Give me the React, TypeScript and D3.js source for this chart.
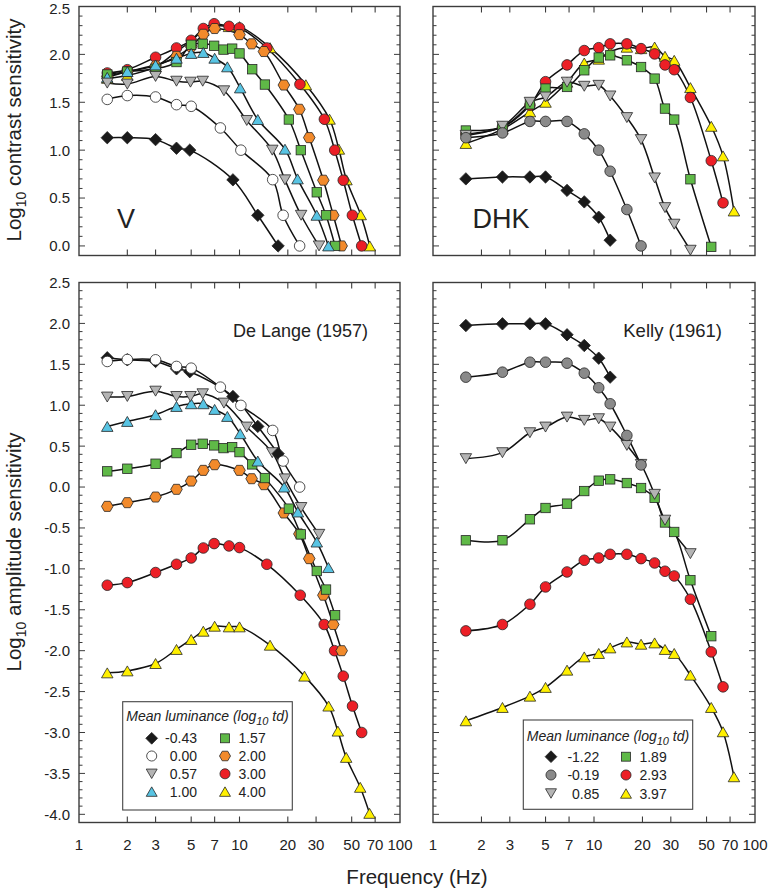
import React from "react";
import * as d3 from "d3";

type Pt = [number, number];

// ---------------- De Lange / V data (frequency Hz, log10 sensitivity) ----------------
// Top-left panel "V": log10 contrast sensitivity
const V_M043: Pt[] = [[1.5,1.13],[2,1.13],[3,1.11],[4.05,1.02],[4.9,1.0],[9.1,0.69],[13,0.32],[17.4,0.0]];
const V_000: Pt[] = [[1.5,1.53],[2,1.57],[3,1.555],[4.05,1.475],[5,1.458],[7.6,1.232],[10.2,1.0],[16.1,0.692],[18.7,0.32],[23.7,0.0]];
const V_057: Pt[] = [[1.5,1.70],[2,1.69],[3,1.77],[4.05,1.72],[4.95,1.71],[5.9,1.72],[8.0,1.62],[11.1,1.31],[16,1.0],[19.2,0.69],[24.2,0.32],[31.3,0.0]];
const V_100: Pt[] = [[1.5,1.76],[2,1.82],[3,1.89],[4.05,1.96],[5,2.01],[5.95,2.02],[7,1.96],[8.4,1.87],[10.1,1.65],[13,1.32],[19.2,1.01],[23,0.70],[30.3,0.32],[35.8,0.0]];
const V_157: Pt[] = [[1.5,1.79],[2,1.82],[3,1.85],[4.05,1.92],[5,2.10],[5.9,2.11],[6.95,2.09],[7.95,2.05],[9.0,2.06],[10,2.01],[12,1.845],[14.4,1.685],[20.3,1.32],[24.1,1.0],[30.3,0.56],[34.6,0.32],[39.4,0.0]];
const V_200: Pt[] = [[1.5,1.77],[2,1.82],[3,1.88],[4.05,1.98],[5,2.08],[5.95,2.21],[7,2.27],[10,2.206],[11.9,2.11],[14.2,2.03],[18.9,1.68],[23.6,1.427],[27.2,1.131],[33.3,0.686],[38.4,0.32],[43.3,0.0]];
const V_300: Pt[] = [[1.5,1.806],[2,1.84],[3,1.97],[4.05,2.067],[5,2.147],[5.95,2.27],[6.95,2.32],[8.6,2.293],[10,2.276],[14.8,2.067],[23.8,1.688],[33.8,1.323],[39.2,1.0],[44.3,0.686],[50.5,0.32],[57.7,0.0]];
const V_400: Pt[] = [[1.5,1.75],[2,1.78],[3,1.87],[4.05,2.03],[5,2.14],[5.95,2.25],[7,2.30],[8.6,2.29],[10,2.29],[15.5,2.07],[25.9,1.683],[36.4,1.323],[41.6,1.01],[46.4,0.69],[56.9,0.325],[64.8,0.0]];

// Bottom-left panel "De Lange (1957)": log10 amplitude sensitivity
const DL_M043: Pt[] = [[1.5,1.58],[2,1.555],[3,1.535],[4.05,1.445],[4.9,1.41],[9.1,1.107],[13,0.741],[17.4,0.408]];
const DL_000: Pt[] = [[1.5,1.535],[2,1.559],[3,1.555],[4.05,1.474],[5,1.453],[7.6,1.221],[10.2,0.998],[16.1,0.692],[18.7,0.318],[23.7,0.0]];
const DL_057: Pt[] = [[1.5,1.10],[2,1.107],[3,1.172],[4.05,1.107],[4.95,1.107],[5.9,1.14],[8.0,1.026],[11.1,0.733],[16,0.42],[19.2,0.10],[24.2,-0.25],[31.3,-0.578]];
const DL_100: Pt[] = [[1.5,0.741],[2,0.802],[3,0.884],[4.05,0.985],[5,1.018],[5.95,1.018],[7,0.949],[8.4,0.863],[10.1,0.652],[13,0.318],[19.0,0.0],[23.1,-0.305],[30.3,-0.672],[35.8,-0.984]];
const DL_157: Pt[] = [[1.5,0.192],[2,0.224],[3,0.285],[4.05,0.415],[5,0.517],[5.9,0.529],[6.95,0.509],[7.95,0.476],[9.0,0.488],[10,0.427],[12,0.277],[14.4,0.11],[20.3,-0.264],[24.1,-0.578],[30.3,-1.026],[34.6,-1.253],[39.4,-1.567]];
const DL_200: Pt[] = [[1.5,-0.236],[2,-0.191],[3,-0.122],[4.05,-0.028],[5,0.073],[5.95,0.204],[7,0.273],[10,0.204],[11.9,0.102],[14.2,0.029],[18.9,-0.317],[23.6,-0.573],[27.2,-0.875],[33.3,-1.322],[38.4,-1.68],[43.3,-2.0]];
const DL_300: Pt[] = [[1.5,-1.20],[2,-1.168],[3,-1.045],[4.05,-0.944],[5,-0.867],[5.95,-0.745],[6.95,-0.691],[8.6,-0.72],[10,-0.74],[14.8,-0.944],[23.9,-1.322],[33.7,-1.68],[39.1,-2.0],[44.3,-2.311],[50.6,-2.677],[57.7,-3.0]];
const DL_400: Pt[] = [[1.5,-2.271],[2,-2.247],[3,-2.157],[4.05,-1.985],[5,-1.863],[5.95,-1.762],[7,-1.701],[8.6,-1.709],[10,-1.709],[15.5,-1.933],[25.4,-2.311],[35.9,-2.677],[41,-2.983],[46.2,-3.304],[56.5,-3.67],[64.6,-3.988]];

// ---------------- Kelly / DHK data ----------------
// Top-right panel "DHK": log10 contrast sensitivity
const DHK_M122: Pt[] = [[1.6,0.70],[2.7,0.72],[4.0,0.72],[5.0,0.72],[6.8,0.58],[8.7,0.46],[10.7,0.30],[12.6,0.06]];
const DHK_M019: Pt[] = [[1.6,1.13],[2.7,1.18],[4.0,1.30],[5.0,1.30],[6.8,1.30],[8.7,1.17],[10.7,1.0],[12.6,0.78],[16,0.38],[19.6,0.0]];
const DHK_085: Pt[] = [[1.6,1.155],[2.7,1.25],[4.0,1.50],[5.0,1.555],[6.8,1.71],[8.7,1.667],[10.7,1.677],[12.6,1.566],[16,1.34],[19.6,1.11],[23.8,0.71],[27.6,0.40],[31.5,0.227],[39.7,-0.045]];
const DHK_189: Pt[] = [[1.6,1.205],[2.7,1.242],[4.0,1.479],[5.0,1.643],[6.8,1.66],[8.7,1.834],[10.7,1.967],[12.6,1.99],[16,1.938],[19.6,1.868],[23.8,1.747],[27.6,1.434],[31.5,1.319],[39.7,0.696],[53.5,-0.01]];
const DHK_293: Pt[] = [[1.6,1.17],[2.7,1.24],[4.0,1.47],[5.0,1.715],[6.8,1.89],[8.7,2.04],[10.7,2.07],[12.6,2.11],[16,2.11],[19.6,2.06],[23.8,2.005],[27.6,1.89],[31.5,1.84],[39.7,1.55],[53.5,0.89],[63.3,0.45]];
const DHK_397: Pt[] = [[1.6,1.07],[2.7,1.22],[4.0,1.40],[5.0,1.50],[6.8,1.71],[8.7,1.91],[10.7,1.95],[12.6,2.03],[16,2.075],[19.6,2.06],[23.8,2.077],[27.6,1.98],[31.5,1.938],[39.7,1.653],[53.5,1.249],[63.3,0.94],[74,0.365]];

// Bottom-right panel "Kelly (1961)": log10 amplitude sensitivity
const K_M122: Pt[] = [[1.6,1.974],[2.7,1.995],[4.0,1.995],[5.0,1.995],[6.8,1.861],[8.7,1.73],[10.7,1.575],[12.6,1.343]];
const K_M019: Pt[] = [[1.6,1.343],[2.7,1.404],[4.0,1.526],[5.0,1.526],[6.8,1.514],[8.7,1.392],[10.7,1.214],[12.6,1.018],[16,0.631],[19.6,0.27]];
const K_085: Pt[] = [[1.6,0.347],[2.7,0.42],[4.0,0.664],[5.0,0.733],[6.8,0.855],[8.7,0.815],[10.7,0.835],[12.6,0.733],[16,0.509],[19.6,0.277],[23.8,-0.089],[27.6,-0.405],[39.7,-0.814]];
const K_189: Pt[] = [[1.6,-0.651],[2.7,-0.651],[4.0,-0.394],[5.0,-0.256],[6.8,-0.203],[8.7,-0.049],[10.7,0.078],[12.6,0.094],[16,0.049],[19.6,-0.012],[23.8,-0.132],[27.6,-0.433],[31.5,-0.549],[39.7,-1.139],[53.5,-1.823]];
const K_293: Pt[] = [[1.6,-1.758],[2.7,-1.68],[4.0,-1.432],[5.0,-1.221],[6.8,-1.038],[8.7,-0.895],[10.7,-0.867],[12.6,-0.822],[16,-0.822],[19.6,-0.875],[23.8,-0.928],[27.6,-1.029],[31.5,-1.087],[39.7,-1.371],[53.5,-2.015],[63.3,-2.442]];
const K_397: Pt[] = [[1.6,-2.857],[2.7,-2.694],[4.0,-2.556],[5.0,-2.449],[6.8,-2.238],[8.7,-2.076],[10.7,-2.034],[12.6,-1.966],[16,-1.893],[19.6,-1.921],[23.8,-1.905],[27.6,-1.985],[31.5,-2.034],[39.7,-2.299],[53.5,-2.694],[63.3,-2.991],[74,-3.541]];

// ---------------- labels / ticks ----------------
const DL_LUM = ["-0.43", "0.00", "0.57", "1.00", "1.57", "2.00", "3.00", "4.00"];
const K_LUM = ["-1.22", "-0.19", "0.85", "1.89", "2.93", "3.97"];
const FREQ_TICKS = [1, 2, 3, 5, 7, 10, 20, 30, 50, 70, 100];
const TOP_Y_TICKS = [0, 0.5, 1, 1.5, 2, 2.5];
const BOT_Y_TICKS = [2.5, 2, 1.5, 1, 0.5, 0, -0.5, -1, -1.5, -2, -2.5, -3, -3.5, -4];

// ---------------- styles ----------------
const FONT = "'Liberation Sans', Arial, Helvetica, sans-serif";
const FRAME = "#3c3c3c";
type Sty = { shape: string; fill: string };
const S_BLACK: Sty = { shape: "diamond", fill: "#1a1a1a" };
const S_WHITE: Sty = { shape: "circle", fill: "#ffffff" };
const S_GTRI: Sty = { shape: "triDown", fill: "#b4b4b4" };
const S_CYAN: Sty = { shape: "triUp", fill: "#58c4e3" };
const S_GREEN: Sty = { shape: "square", fill: "#5fb947" };
const S_ORANGE: Sty = { shape: "hex", fill: "#f28a2b" };
const S_RED: Sty = { shape: "circle", fill: "#ec1f26" };
const S_YELLOW: Sty = { shape: "triUp", fill: "#fff000" };
const S_GCIRC: Sty = { shape: "circle", fill: "#8a8a8a" };

type Series = { data: Pt[]; sty: Sty };

// drawing order back -> front
const V_SERIES: Series[] = [
  { data: V_400, sty: S_YELLOW }, { data: V_300, sty: S_RED }, { data: V_200, sty: S_ORANGE },
  { data: V_157, sty: S_GREEN }, { data: V_100, sty: S_CYAN }, { data: V_057, sty: S_GTRI },
  { data: V_M043, sty: S_BLACK }, { data: V_000, sty: S_WHITE },
];
const DL_SERIES: Series[] = [
  { data: DL_400, sty: S_YELLOW }, { data: DL_300, sty: S_RED }, { data: DL_200, sty: S_ORANGE },
  { data: DL_157, sty: S_GREEN }, { data: DL_100, sty: S_CYAN }, { data: DL_057, sty: S_GTRI },
  { data: DL_M043, sty: S_BLACK }, { data: DL_000, sty: S_WHITE },
];
const DHK_SERIES: Series[] = [
  { data: DHK_397, sty: S_YELLOW }, { data: DHK_293, sty: S_RED }, { data: DHK_189, sty: S_GREEN },
  { data: DHK_085, sty: S_GTRI }, { data: DHK_M019, sty: S_GCIRC }, { data: DHK_M122, sty: S_BLACK },
];
const K_SERIES: Series[] = [
  { data: K_397, sty: S_YELLOW }, { data: K_293, sty: S_RED }, { data: K_189, sty: S_GREEN },
  { data: K_085, sty: S_GTRI }, { data: K_M019, sty: S_GCIRC }, { data: K_M122, sty: S_BLACK },
];
const DL_LEGEND_STY = [S_BLACK, S_WHITE, S_GTRI, S_CYAN, S_GREEN, S_ORANGE, S_RED, S_YELLOW];
const K_LEGEND_STY = [S_BLACK, S_GCIRC, S_GTRI, S_GREEN, S_RED, S_YELLOW];

function Marker({ sty, x, y, k = 1 }: { sty: Sty; x: number; y: number; k?: number }) {
  const p = { fill: sty.fill, stroke: "#262626", strokeWidth: 0.8 };
  switch (sty.shape) {
    case "circle":
      return <circle cx={x} cy={y} r={5.3 * k} {...p} />;
    case "square": {
      const h = 4.7 * k;
      return <rect x={x - h} y={y - h} width={2 * h} height={2 * h} {...p} />;
    }
    case "diamond": {
      const d = 6.2 * k;
      return <path d={`M${x},${y - d}L${x + d},${y}L${x},${y + d}L${x - d},${y}Z`} {...p} />;
    }
    case "triUp": {
      const s = 11.5 * k, h = s * 0.866;
      return <path d={`M${x},${y - h / 2}L${x + s / 2},${y + h / 2}L${x - s / 2},${y + h / 2}Z`} {...p} />;
    }
    case "triDown": {
      const s = 11.5 * k, h = s * 0.866;
      return <path d={`M${x},${y + h / 2}L${x + s / 2},${y - h / 2}L${x - s / 2},${y - h / 2}Z`} {...p} />;
    }
    case "hex": {
      const r = 5.8 * k;
      const pts = d3.range(6).map((i) => {
        const a = (Math.PI / 3) * i;
        return `${x + r * Math.cos(a)},${y + r * Math.sin(a)}`;
      });
      return <path d={`M${pts.join("L")}Z`} {...p} />;
    }
  }
  return null;
}

type PanelProps = {
  x0: number; x1: number; y0: number; y1: number;
  yDomain: [number, number]; yTicks: number[];
  yLabels: boolean; xLabels: boolean; series: Series[];
};

function Panel({ x0, x1, y0, y1, yDomain, yTicks, yLabels, xLabels, series }: PanelProps) {
  const xs = d3.scaleLog().domain([1, 100]).range([x0, x1]);
  const ys = d3.scaleLinear().domain(yDomain).range([y1, y0]);
  const line = d3.line<Pt>().x((d) => xs(d[0])).y((d) => ys(d[1])).curve(d3.curveCatmullRom.alpha(0.5));
  const minor = d3.range(Math.ceil(yDomain[0] * 10 - 1e-9), Math.floor(yDomain[1] * 10 + 1e-9) + 1).map((i) => i / 10);
  const innerX = FREQ_TICKS.filter((f) => f > 1 && f < 100);
  return (
    <g>
      {innerX.map((f) => (
        <g key={"xt" + f}>
          <line x1={xs(f)} x2={xs(f)} y1={y0} y2={y0 + 6} stroke={FRAME} strokeWidth={1.1} />
          <line x1={xs(f)} x2={xs(f)} y1={y1} y2={y1 - 6} stroke={FRAME} strokeWidth={1.1} />
        </g>
      ))}
      {minor.map((v) => {
        const major = Math.abs(v * 2 - Math.round(v * 2)) < 1e-6;
        const len = major ? 6 : 3.5;
        const y = ys(v);
        return (
          <g key={"yt" + v}>
            <line x1={x0} x2={x0 + len} y1={y} y2={y} stroke={FRAME} strokeWidth={1} />
            <line x1={x1} x2={x1 - len} y1={y} y2={y} stroke={FRAME} strokeWidth={1} />
          </g>
        );
      })}
      {yLabels &&
        yTicks.map((v) => (
          <text key={"yl" + v} x={x0 - 9} y={Math.max(ys(v), 8.5)} dy="0.36em" textAnchor="end" fontSize={15} fontFamily={FONT} fill="#222">
            {v.toFixed(1)}
          </text>
        ))}
      {xLabels &&
        FREQ_TICKS.map((f) => (
          <text key={"xl" + f} x={xs(f)} y={850} textAnchor="middle" fontSize={15} fontFamily={FONT} fill="#222">
            {f}
          </text>
        ))}
      {series.map((s, i) => (
        <path key={"ln" + i} d={line(s.data) || ""} fill="none" stroke="#111" strokeWidth={1.5} />
      ))}
      {series.map((s, i) => (
        <g key={"mk" + i}>
          {s.data.map((d, j) => (
            <Marker key={j} sty={s.sty} x={xs(d[0])} y={ys(d[1])} />
          ))}
        </g>
      ))}
      <rect x={x0} y={y0} width={x1 - x0} height={y1 - y0} fill="none" stroke={FRAME} strokeWidth={1.4} />
    </g>
  );
}

type LegendProps = {
  x: number; y: number; w: number; h: number; titleY: number;
  rows: number[]; colSym: number[]; colText: number[];
  labels: string[]; stys: Sty[]; perCol: number;
};

function Legend({ x, y, w, h, titleY, rows, colSym, colText, labels, stys, perCol }: LegendProps) {
  return (
    <g>
      <rect x={x} y={y} width={w} height={h} fill="#fff" stroke="#444" strokeWidth={1.1} />
      <text x={x + w / 2} y={titleY} dy="0.35em" textAnchor="middle" fontSize={14} fontStyle="italic" fontFamily={FONT} fill="#222">
        Mean luminance (log
        <tspan dy="4" fontSize={11}>10</tspan>
        <tspan dy="-4"> td)</tspan>
      </text>
      {labels.map((lab, i) => {
        const col = Math.floor(i / perCol);
        const row = i % perCol;
        return (
          <g key={lab}>
            <Marker sty={stys[i]} x={colSym[col]} y={rows[row]} k={0.95} />
            <text x={colText[col]} y={rows[row]} dy="0.36em" textAnchor="end" fontSize={14} fontFamily={FONT} fill="#222">
              {lab}
            </text>
          </g>
        );
      })}
    </g>
  );
}

export default function App() {
  const TOP: [number, number] = [-0.1, 2.5];
  const BOT: [number, number] = [-4.1, 2.5];
  return (
    <svg width={768} height={890} style={{ position: "absolute", left: 0, top: 0, background: "#fff" }}>
      <rect x={0} y={0} width={768} height={890} fill="#fff" />
      <Panel x0={79} x1={400} y0={6.5} y1={255.5} yDomain={TOP} yTicks={TOP_Y_TICKS} yLabels={true} xLabels={false} series={V_SERIES} />
      <Panel x0={433} x1={755} y0={6.5} y1={255.5} yDomain={TOP} yTicks={TOP_Y_TICKS} yLabels={false} xLabels={false} series={DHK_SERIES} />
      <Panel x0={79} x1={400} y0={282.5} y1={822.5} yDomain={BOT} yTicks={BOT_Y_TICKS} yLabels={true} xLabels={true} series={DL_SERIES} />
      <Panel x0={433} x1={755} y0={282.5} y1={822.5} yDomain={BOT} yTicks={BOT_Y_TICKS} yLabels={false} xLabels={true} series={K_SERIES} />

      <text x={126} y={228} textAnchor="middle" fontSize={27} fontFamily={FONT} fill="#222">V</text>
      <text x={472.5} y={228} fontSize={27} fontFamily={FONT} fill="#222">DHK</text>
      <text x={368} y={337} textAnchor="end" fontSize={18} fontFamily={FONT} fill="#222">De Lange (1957)</text>
      <text x={722} y={337} textAnchor="end" fontSize={18.5} fontFamily={FONT} fill="#222">Kelly (1961)</text>

      <Legend x={122.7} y={701.7} w={169.6} h={108.3} titleY={716.5} rows={[738.3, 756, 773.8, 791.6]}
        colSym={[151.7, 225]} colText={[197, 265.7]} labels={DL_LUM} stys={DL_LEGEND_STY} perCol={4} />
      <Legend x={523.3} y={720} w={169.4} h={89.3} titleY={736.5} rows={[756.7, 775, 793.5]}
        colSym={[551, 626]} colText={[599.3, 666.7]} labels={K_LUM} stys={K_LEGEND_STY} perCol={3} />

      <text transform="translate(20.5,130) rotate(-90)" textAnchor="middle" fontSize={20.5} fontFamily={FONT} fill="#222">
        Log<tspan dy="5" fontSize={14}>10</tspan><tspan dy="-5"> contrast sensitivity</tspan>
      </text>
      <text transform="translate(20.5,552) rotate(-90)" textAnchor="middle" fontSize={20.5} fontFamily={FONT} fill="#222">
        Log<tspan dy="5" fontSize={14}>10</tspan><tspan dy="-5"> amplitude sensitivity</tspan>
      </text>
      <text x={417} y={884} textAnchor="middle" fontSize={20.5} fontFamily={FONT} fill="#222">Frequency (Hz)</text>
    </svg>
  );
}
